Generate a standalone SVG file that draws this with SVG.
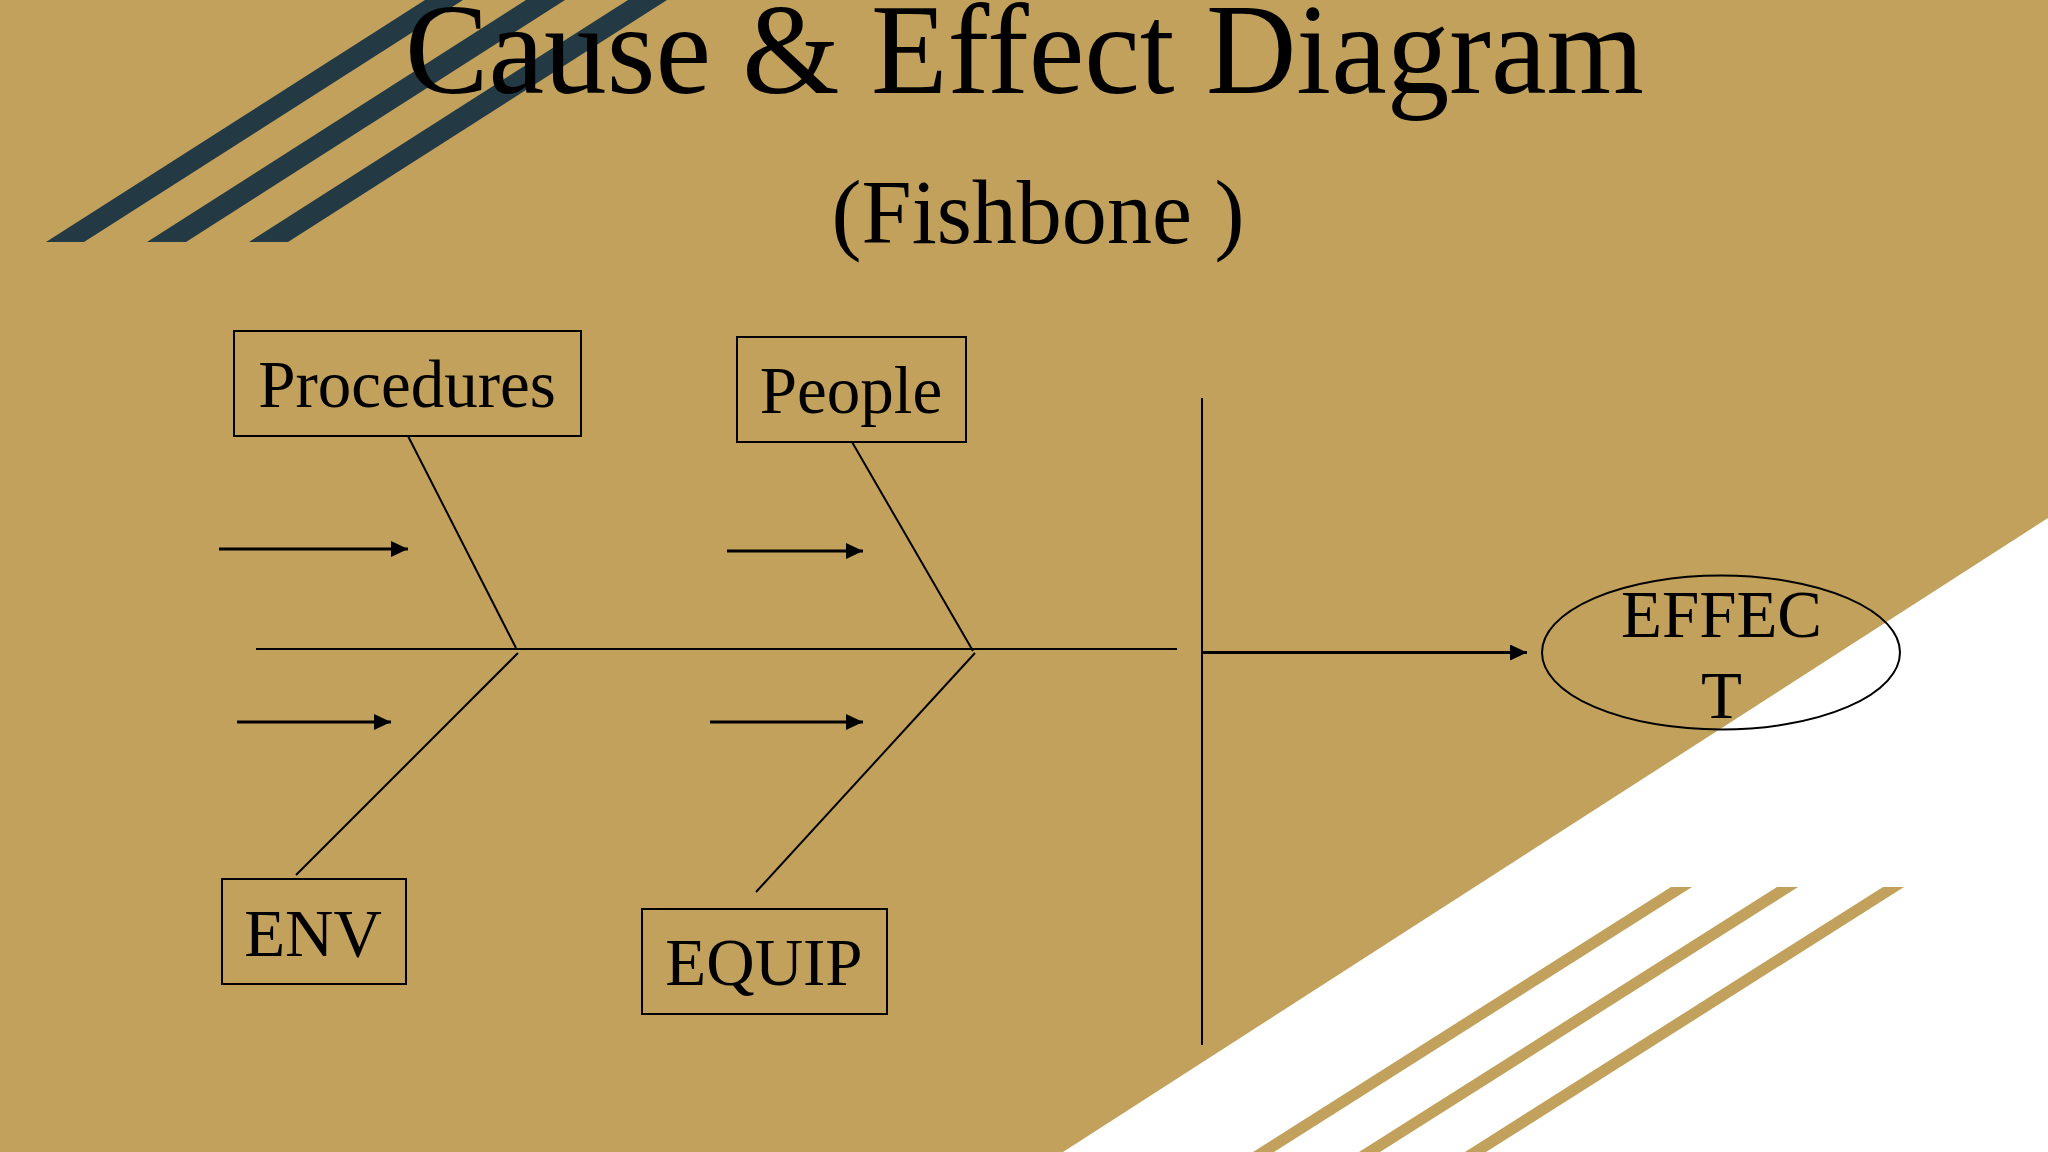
<svg xmlns="http://www.w3.org/2000/svg" width="2048" height="1152" viewBox="0 0 2048 1152">
  <defs>
    <style>
      .bg { fill: #C1A15C; }
      .dark { fill: #233A45; }
      .gold { fill: #C1A15C; }
      .bone { stroke: #000; stroke-width: 2; fill: none; }
      .arr { stroke: #000; stroke-width: 3; fill: none; }
      .box { stroke: #000; stroke-width: 2; fill: none; }
      .lbl { font-family: "Liberation Serif", "Times New Roman", serif; font-size: 67px; fill: #000; text-anchor: middle; }
      .title { font-family: "Liberation Serif", "Times New Roman", serif; fill: #000; text-anchor: middle; }
    </style>
    <marker id="ah" viewBox="0 0 17 16" refX="17" refY="8" markerWidth="17" markerHeight="16" markerUnits="userSpaceOnUse" orient="auto">
      <path d="M0,0 L17,8 L0,16 z" fill="#000"/>
    </marker>
  </defs>

  <g id="background">
    <rect class="bg" x="0" y="0" width="2048" height="1152"/>
    <polygon fill="#FFFFFF" points="2048,518 2048,1152 1063,1152"/>
    <polygon class="dark" points="46,242 84,242 463,0 425,0"/>
    <polygon class="dark" points="147,242 186,242 565,0 526,0"/>
    <polygon class="dark" points="249,242 288,242 667,0 628,0"/>
    <polygon class="gold" points="1671,887 1692,887 1274,1152 1253,1152"/>
    <polygon class="gold" points="1777,887 1798,887 1380,1152 1359,1152"/>
    <polygon class="gold" points="1883,887 1904,887 1486,1152 1465,1152"/>
  </g>

  <g id="title">
    <text class="title" x="1024.5" y="93" font-size="130" textLength="1239" lengthAdjust="spacingAndGlyphs">Cause &amp; Effect Diagram</text>
    <text class="title" x="1038" y="243" font-size="92" textLength="413" lengthAdjust="spacingAndGlyphs">(Fishbone )</text>
  </g>

  <g id="connectors">
    <line class="bone" x1="256" y1="649" x2="1177" y2="649"/>
    <line class="bone" x1="408" y1="436" x2="516" y2="648"/>
    <line class="bone" x1="852" y1="442" x2="973" y2="651"/>
    <line class="bone" x1="518" y1="653" x2="296" y2="875"/>
    <line class="bone" x1="975" y1="653" x2="756" y2="892"/>
    <line class="bone" x1="1202" y1="398" x2="1202" y2="1045"/>
    <line class="arr" x1="1203" y1="652.5" x2="1527" y2="652.5" marker-end="url(#ah)"/>
    <line class="arr" x1="219" y1="549" x2="408" y2="549" marker-end="url(#ah)"/>
    <line class="arr" x1="727" y1="551" x2="863" y2="551" marker-end="url(#ah)"/>
    <line class="arr" x1="237" y1="722" x2="391" y2="722" marker-end="url(#ah)"/>
    <line class="arr" x1="710" y1="722" x2="863" y2="722" marker-end="url(#ah)"/>
  </g>

  <g id="node-procedures">
    <rect class="box" x="234" y="331" width="347" height="105"/>
    <text class="lbl" x="407" y="407">Procedures</text>
  </g>
  <g id="node-people">
    <rect class="box" x="737" y="337" width="229" height="105"/>
    <text class="lbl" x="851" y="413">People</text>
  </g>
  <g id="node-env">
    <rect class="box" x="222" y="879" width="184" height="105"/>
    <text class="lbl" x="313" y="956">ENV</text>
  </g>
  <g id="node-equip">
    <rect class="box" x="642" y="909" width="245" height="105"/>
    <text class="lbl" x="764" y="985">EQUIP</text>
  </g>
  <g id="node-effect">
    <ellipse class="box" cx="1721" cy="652.5" rx="179" ry="77"/>
    <text class="lbl" x="1721.5" y="636.5">EFFEC</text>
    <text class="lbl" x="1721.5" y="718">T</text>
  </g>
</svg>
